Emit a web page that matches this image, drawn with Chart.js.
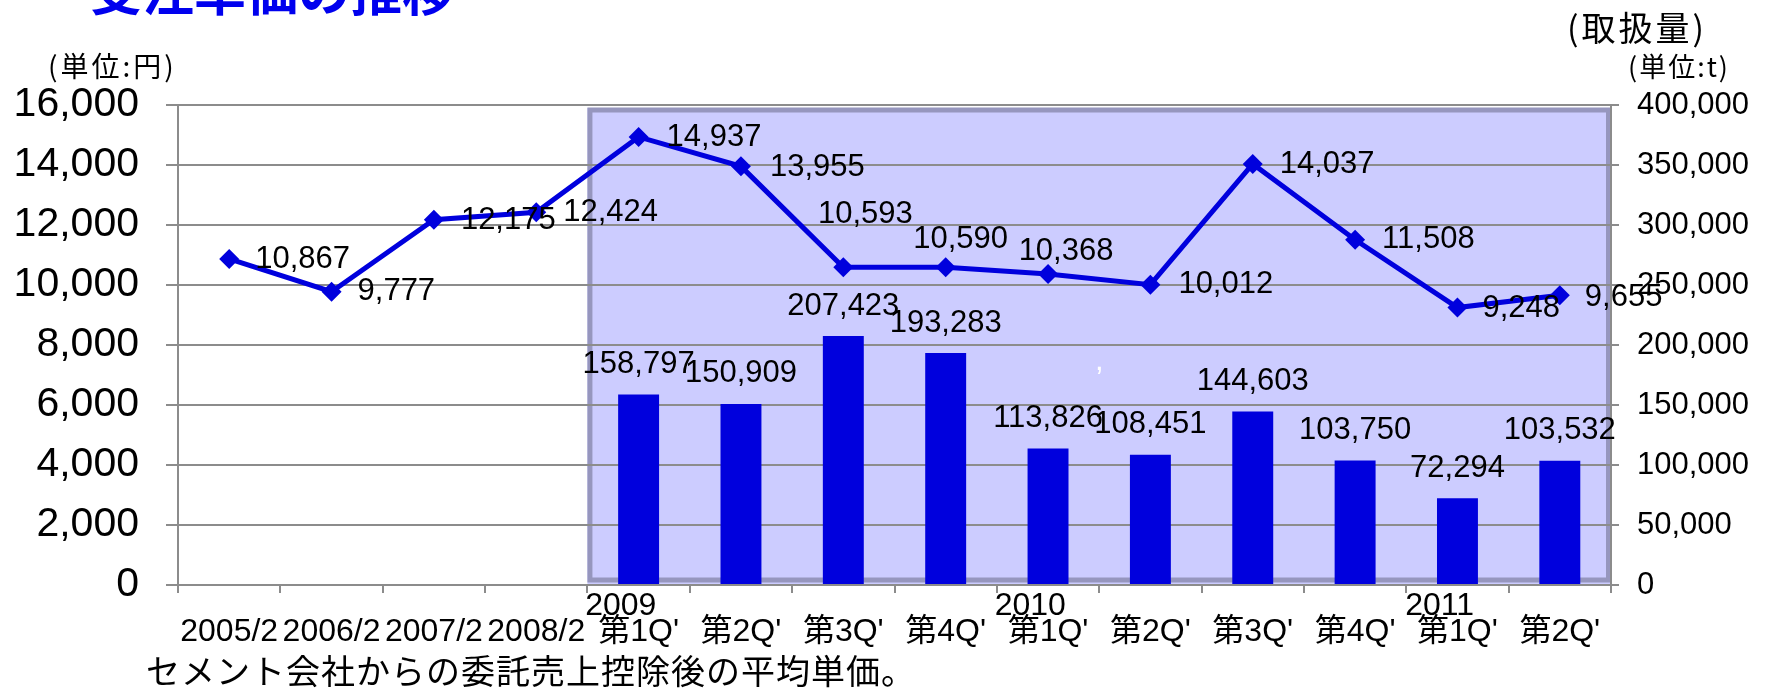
<!DOCTYPE html>
<html lang="ja">
<head>
<meta charset="utf-8">
<title>受注単価の推移</title>
<script src="https://cdn.jsdelivr.net/npm/chart.js@4.4.1/dist/chart.umd.min.js"></script>
<style>
  html, body { margin: 0; padding: 0; background: #fff; }
  canvas { display: block; }
</style>
</head>
<body>
<canvas id="graficoUnitPrice" width="1766" height="688"></canvas>
<script>
// Categorías (año / periodo) y valores
const years = ["", "", "", "", "2009", "", "", "", "2010", "", "", "", "2011", ""];
const periods = ["2005/2", "2006/2", "2007/2", "2008/2", "第1Q'", "第2Q'", "第3Q'", "第4Q'", "第1Q'", "第2Q'", "第3Q'", "第4Q'", "第1Q'", "第2Q'"];
const unitPrice = [10867, 9777, 12175, 12424, 14937, 13955, 10593, 10590, 10368, 10012, 14037, 11508, 9248, 9655];
const volume = [null, null, null, null, 158797, 150909, 207423, 193283, 113826, 108451, 144603, 103750, 72294, 103532];
const priceTicks = [0, 2000, 4000, 6000, 8000, 10000, 12000, 14000, 16000];
const volumeTicks = [0, 50000, 100000, 150000, 200000, 250000, 300000, 350000, 400000];

const BLUE = "#0000dd";
const GRID = "#8c8c8c";
const NUM_FONT = "'Liberation Sans', Arial, 'Noto Sans CJK JP', sans-serif";
const JP_FONT = "'Noto Sans CJK JP', 'Liberation Sans', sans-serif";

// el año se corre hacia el inicio del grupo
const labels = periods.map((p, i) => [years[i] ? years[i] + "    " : "", p]);

// desplazamiento de etiquetas de la línea: [dx, dy, alineación]
const lineLabelOffsets = [
  [26, 0, "left"], [26, 0, "left"], [27, 1, "left"], [27, 0, "left"],
  [28, 1, "left"], [29, 1, "left"], [22, -53, "center"], [15, -28, "center"],
  [18, -23, "center"], [28, 0, "left"], [27, 1, "left"], [27, 0, "left"],
  [25, 1, "left"], [25, 2, "left"]
];

const fmt = (v) => v.toLocaleString("en-US");

const decoraciones = {
  id: "decoraciones",
  beforeDraw(chart) {
    const { ctx, chartArea, scales: { x } } = chart;
    const left = x.getPixelForValue(3.5);
    const { top, bottom, right } = chartArea;
    ctx.save();
    ctx.fillStyle = "#ccccff";
    ctx.fillRect(left, top + 3, right - left, bottom - top - 3);
    ctx.strokeStyle = "#9696be";
    ctx.lineWidth = 5;
    ctx.strokeRect(left + 2.5, top + 5, right - left - 5, bottom - top - 10);
    ctx.restore();
  },
  afterDatasetsDraw(chart) {
    const ctx = chart.ctx;
    ctx.save();
    ctx.fillStyle = "#000";
    ctx.font = "31px " + NUM_FONT;
    ctx.textBaseline = "middle";

    // valores de las barras
    ctx.textAlign = "center";
    chart.getDatasetMeta(1).data.forEach((bar, i) => {
      if (volume[i] == null) return;
      ctx.fillText(fmt(volume[i]), bar.x, bar.y - 30);
    });

    // valores de la línea
    chart.getDatasetMeta(0).data.forEach((pt, i) => {
      const [dx, dy, align] = lineLabelOffsets[i];
      ctx.textAlign = align;
      ctx.fillText(fmt(unitPrice[i]), pt.x + dx, pt.y + dy);
    });

    // coma blanca suelta
    ctx.fillStyle = "#fff";
    ctx.textAlign = "center";
    ctx.fillText(",", chart.scales.x.getPixelForValue(8.5), chart.scales.y.getPixelForValue(7450));
    ctx.restore();
  },
  afterDraw(chart) {
    const ctx = chart.ctx;
    ctx.save();
    ctx.fillStyle = "#0000ee";
    ctx.font = "bold 52px " + JP_FONT;
    ctx.textAlign = "left";
    ctx.textBaseline = "alphabetic";
    ctx.fillText("受注単価の推移", 90, 11);

    ctx.fillStyle = "#000";
    ctx.textBaseline = "middle";
    ctx.letterSpacing = "3px";
    ctx.font = "28px " + JP_FONT;
    ctx.fillText("(単位:円)", 48, 66);
    ctx.font = "34px " + JP_FONT;
    ctx.fillText("(取扱量)", 1567, 28);
    ctx.letterSpacing = "2px";
    ctx.font = "27px " + JP_FONT;
    ctx.fillText("(単位:t)", 1628, 67);
    ctx.letterSpacing = "1px";
    ctx.font = "34px " + JP_FONT;
    ctx.fillText("セメント会社からの委託売上控除後の平均単価。", 146, 671);
    ctx.restore();
  }
};

new Chart(document.getElementById("graficoUnitPrice").getContext("2d"), {
  data: {
    labels: labels,
    datasets: [
      {
        type: "line",
        label: "受注単価",
        data: unitPrice,
        yAxisID: "y",
        order: 0,
        borderColor: BLUE,
        backgroundColor: BLUE,
        borderWidth: 5,
        tension: 0,
        fill: false,
        pointStyle: "rectRot",
        pointRadius: 10,
        pointBorderWidth: 0,
        pointBackgroundColor: BLUE
      },
      {
        type: "bar",
        label: "取扱量",
        data: volume,
        yAxisID: "y2",
        order: 1,
        backgroundColor: BLUE,
        categoryPercentage: 1,
        barPercentage: 0.4
      }
    ]
  },
  options: {
    responsive: false,
    animation: false,
    devicePixelRatio: 1,
    layout: { padding: { top: 105, left: 0, right: 0, bottom: 0 } },
    plugins: {
      legend: { display: false },
      tooltip: { enabled: false }
    },
    scales: {
      x: {
        afterFit: (s) => { s.height = 103; },
        grid: { offset: true, drawOnChartArea: false, drawTicks: true, tickLength: 8, color: GRID, lineWidth: 2 },
        border: { color: GRID, width: 2 },
        ticks: {
          autoSkip: false,
          maxRotation: 0,
          padding: 0,
          color: "#000",
          font: { family: NUM_FONT, size: 32, lineHeight: 0.82 }
        }
      },
      y: {
        position: "left",
        min: 0,
        max: 16000,
        afterFit: (s) => { s.width = 178; },
        afterBuildTicks: (s) => { s.ticks = priceTicks.map((v) => ({ value: v })); },
        grid: { color: GRID, lineWidth: 2, tickLength: 12 },
        border: { color: GRID, width: 2 },
        ticks: {
          padding: 27,
          color: "#000",
          font: { family: NUM_FONT, size: 41 },
          callback: (v) => fmt(v)
        }
      },
      y2: {
        position: "right",
        min: 0,
        max: 400000,
        afterFit: (s) => { s.width = 155; },
        afterBuildTicks: (s) => { s.ticks = volumeTicks.map((v) => ({ value: v })); },
        grid: { drawOnChartArea: false, color: GRID, lineWidth: 2, tickLength: 8 },
        border: { color: GRID, width: 2 },
        ticks: {
          padding: 18,
          color: "#000",
          font: { family: NUM_FONT, size: 31 },
          callback: (v) => fmt(v)
        }
      }
    }
  },
  plugins: [decoraciones]
});
</script>
</body>
</html>
